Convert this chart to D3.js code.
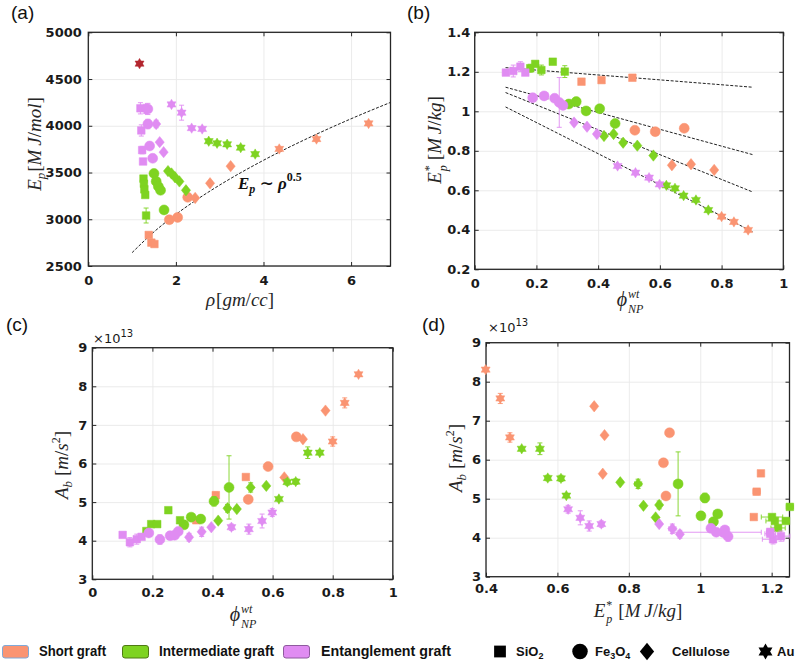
<!DOCTYPE html>
<html><head><meta charset="utf-8">
<script src="https://cdn.jsdelivr.net/npm/d3@7"></script>
<style>body{margin:0;background:#fff} svg{display:block}</style>
</head><body>
<svg id="chart" width="800" height="663"></svg>
<script>
// ---------------- DATA ----------------
const graftNames = ["Short graft", "Intermediate graft", "Entanglement graft"];
const graftColors = ["#FA9472", "#7ED321", "#E08CF2"];
const graftEdges = ["#7FA9D8", "#4F7A14", "#8E5A9E"];
const materialNames = ["SiO2", "Fe3O4", "Cellulose", "Au"];
const materialShapes = ["square", "circle", "diamond", "star"];

// panels (b)-(d): [phi_wt, E*_p (MJ/kg), A_b (x1e13 m/s^2), err E*, err A_b]
const shortSiO2      = [[0.346,1.150,4.53],[0.411,1.158,5.18,0.01,0.08],[0.511,1.170,5.65]];
const shortFe3O4     = [[0.519,0.904,5.07],[0.585,0.897,5.92],[0.679,0.914,6.69]];
const shortCellulose = [[0.639,0.727,5.64],[0.701,0.732,6.63],[0.776,0.703,7.37]];
const shortAu        = [[0.800,0.467,6.57,0,0.12],[0.840,0.440,7.57,0,0.13],[0.886,0.399,8.31,0,0.05]];
const interSiO2      = [[0.180,1.218,4.25,0.02,0.05],[0.196,1.240,4.43,0.01,0.03],[0.216,1.209,4.43,0.025,0.05],[0.253,1.251,4.79,0.01,0.06],[0.292,1.201,4.53,0.03,0.05]];
const interFe3O4     = [[0.305,1.037,4.41],[0.329,1.049,4.61],[0.361,1.002,4.56],[0.405,1.013,5.02,0.005,0.12],[0.455,0.938,5.38,0,0.82]];
const interCellulose = [[0.419,0.875,4.52],[0.450,0.885,4.84,0,0.1],[0.481,0.841,4.82],[0.527,0.826,5.38,0.01,0.12],[0.579,0.776,5.42]];
const interAu        = [[0.621,0.625,5.08],[0.649,0.610,5.52,0,0.08],[0.677,0.573,5.53,0,0.07],[0.717,0.551,6.28,0,0.15],[0.757,0.500,6.28]];
const entSiO2        = [[0.101,1.196,4.15,0.01,0.04],[0.125,1.204,3.96,0.03,0.12],[0.148,1.226,4.04,0.025,0.13],[0.164,1.196,4.10,0.015,0.05]];
const entFe3O4       = [[0.188,1.069,4.20,0,0.05],[0.225,1.078,4.03,0,0.12],[0.259,1.066,4.13,0,0.1],[0.274,1.045,4.14,0.126,0.05],[0.286,1.030,4.24]];
const entCellulose   = [[0.322,0.943,4.09,0,0.1],[0.364,0.922,4.23,0.01,0.12],[0.396,0.885,4.35]];
const entAu          = [[0.463,0.723,4.35,0,0.08],[0.521,0.689,4.30,0,0.13],[0.565,0.664,4.51,0,0.18],[0.599,0.630,4.73,0,0.1]];

// panel (a): [rho (g/cc), E_p (MJ/mol), err E_p]
const rhoShortSiO2      = [[1.38,2832],[1.44,2750],[1.51,2735]];
const rhoShortFe3O4     = [[1.85,2995],[2.04,3020],[2.27,3235]];
const rhoShortCellulose = [[2.44,3228],[2.78,3385],[3.25,3568]];
const rhoShortAu        = [[4.36,3752],[5.21,3858],[6.40,4025]];
const rhoInterSiO2      = [[1.26,3435],[1.27,3380],[1.28,3320],[1.30,3260],[1.32,3040,80]];
const rhoInterFe3O4     = [[1.50,3490],[1.55,3405],[1.60,3350],[1.65,3310],[1.73,3100]];
const rhoInterCellulose = [[1.82,3515],[1.90,3490],[1.98,3450],[2.08,3405],[2.23,3310]];
const rhoInterAu        = [[2.75,3835],[2.94,3813],[3.17,3802],[3.48,3766],[3.81,3697]];
const rhoEntSiO2        = [[1.19,4187,60],[1.21,3950,60],[1.23,3740,40],[1.25,3618,30]];
const rhoEntFe3O4       = [[1.36,4180,60],[1.36,4019,50],[1.40,3784],[1.47,3652]];
const rhoEntCellulose   = [[1.31,4180,50],[1.55,4019,40],[1.63,3825],[1.72,3718]];
const rhoEntAu          = [[1.90,4228],[2.13,4140,80],[2.36,3975],[2.60,3966]];
const rhoReference      = [[1.17,4665]];
const referenceColor = "#B3262F";

// E_p ~ rho^0.5 guide curve
const fitRho = [1.0, 1.5, 2.0, 2.5, 3.0, 4.0, 5.0, 6.0, 6.9];
const fitEp  = [2643, 2865, 3052, 3217, 3366, 3631, 3864, 4075, 4250];

// panel (b) guide lines: E*_p at phi = 0.1 and 0.9
const guidePhi = [0.1, 0.9];
const guideLines = [[1.221, 1.122], [1.122, 0.781], [1.095, 0.592], [1.022, 0.391]];

// tick values
const ticksAx = [0, 2, 4, 6], ticksAy = [2500, 3000, 3500, 4000, 4500, 5000];
const ticksBx = [0, 0.2, 0.4, 0.6, 0.8, 1], ticksBy = [0.2, 0.4, 0.6, 0.8, 1, 1.2, 1.4];
const ticksCx = [0, 0.2, 0.4, 0.6, 0.8, 1], ticksCy = [3, 4, 5, 6, 7, 8, 9];
const ticksDx = [0.4, 0.6, 0.8, 1, 1.2], ticksDy = [3, 4, 5, 6, 7, 8, 9];

const groups = [
  {g:0, m:0, pts:shortSiO2, rho:rhoShortSiO2}, {g:0, m:1, pts:shortFe3O4, rho:rhoShortFe3O4},
  {g:0, m:2, pts:shortCellulose, rho:rhoShortCellulose}, {g:0, m:3, pts:shortAu, rho:rhoShortAu},
  {g:1, m:0, pts:interSiO2, rho:rhoInterSiO2}, {g:1, m:1, pts:interFe3O4, rho:rhoInterFe3O4},
  {g:1, m:2, pts:interCellulose, rho:rhoInterCellulose}, {g:1, m:3, pts:interAu, rho:rhoInterAu},
  {g:2, m:0, pts:entSiO2, rho:rhoEntSiO2}, {g:2, m:1, pts:entFe3O4, rho:rhoEntFe3O4},
  {g:2, m:2, pts:entCellulose, rho:rhoEntCellulose}, {g:2, m:3, pts:entAu, rho:rhoEntAu}
];

// ---------------- DRAWING ----------------
const svg = d3.select("#chart");
const AX = "#262626", GRID = "#e9e9e9";
const TICKF = "'DejaVu Sans', 'Liberation Sans', sans-serif";
const SERIF = "'Liberation Serif', 'DejaVu Serif', serif";

function starPath(R){
  const pt = a => [R*Math.cos(a*Math.PI/180), R*Math.sin(a*Math.PI/180)].map(v=>v.toFixed(2)).join(",");
  const tri = as => "M" + as.map(pt).join("L") + "Z";
  return tri([-90,30,150]) + tri([90,210,330]);
}
function shapePath(shape, k){
  k = k || 1;
  if (shape === "square"){ const s = 3.8*k; return `M${-s},${-s}H${s}V${s}H${-s}Z`; }
  if (shape === "circle"){ const r = 5.0*k; return `M${r},0A${r},${r} 0 1,1 ${-r},0A${r},${r} 0 1,1 ${r},0Z`; }
  if (shape === "diamond"){ const w = 4.6*k, h = 5.7*k; return `M0,${-h}L${w},0L0,${h}L${-w},0Z`; }
  return starPath(5.2*k);
}

function panel(cfg){
  const x = d3.scaleLinear().domain(cfg.xd).range(cfg.xr);
  const y = d3.scaleLinear().domain(cfg.yd).range(cfg.yr);
  const [x0, x1] = cfg.xr, [y0, y1] = cfg.yr;
  const W = x1 - x0, H = y0 - y1;
  const gridStyle = g => { g.select(".domain").remove(); g.selectAll("line").attr("stroke", GRID).attr("stroke-width", 0.9); };
  svg.append("g").attr("transform", `translate(0,${y0})`)
    .call(d3.axisBottom(x).tickValues(cfg.xt).tickSize(-H).tickFormat("")).call(gridStyle);
  svg.append("g").attr("transform", `translate(${x0},0)`)
    .call(d3.axisLeft(y).tickValues(cfg.yt).tickSize(-W).tickFormat("")).call(gridStyle);
  const tickStyle = g => {
    g.select(".domain").remove();
    g.selectAll("line").attr("stroke", AX).attr("stroke-width", 1);
    g.attr("font-family", TICKF).attr("font-size", 13).attr("font-weight", "bold");
    g.selectAll("text").attr("fill", "#1a1a1a");
  };
  svg.append("g").attr("transform", `translate(0,${y0})`)
    .call(d3.axisBottom(x).tickValues(cfg.xt).tickSizeInner(-4).tickSizeOuter(0).tickPadding(cfg.xpad).tickFormat(cfg.xf)).call(tickStyle);
  svg.append("g").attr("transform", `translate(0,${y1})`)
    .call(d3.axisTop(x).tickValues(cfg.xt).tickSizeInner(-4).tickSizeOuter(0).tickFormat("")).call(tickStyle);
  svg.append("g").attr("transform", `translate(${x0},0)`)
    .call(d3.axisLeft(y).tickValues(cfg.yt).tickSizeInner(-4).tickSizeOuter(0).tickPadding(cfg.ypad).tickFormat(cfg.yf)).call(tickStyle);
  svg.append("g").attr("transform", `translate(${x1},0)`)
    .call(d3.axisRight(y).tickValues(cfg.yt).tickSizeInner(-4).tickSizeOuter(0).tickFormat("")).call(tickStyle);
  svg.append("rect").attr("x", x0).attr("y", y1).attr("width", W).attr("height", H)
    .attr("fill", "none").attr("stroke", AX).attr("stroke-width", 1.3);
  return {x, y, layer: svg.append("g")};
}

function drawGroup(P, pts, xi, yi, exi, eyi, color, shape){
  const L = P.layer.append("g");
  pts.forEach(p => {
    const cx = P.x(p[xi]), cy = P.y(p[yi]);
    const ey = eyi != null ? (p[eyi] || 0) : 0;
    const ex = exi != null ? (p[exi] || 0) : 0;
    if (ey){
      const a = P.y(p[yi] - ey), b = P.y(p[yi] + ey);
      L.append("path").attr("d", `M${cx},${a}V${b}M${cx-2.5},${a}H${cx+2.5}M${cx-2.5},${b}H${cx+2.5}`)
        .attr("stroke", color).attr("stroke-width", 0.9).attr("fill", "none");
    }
    if (ex){
      const a = P.x(p[xi] - ex), b = P.x(p[xi] + ex);
      L.append("path").attr("d", `M${a},${cy}H${b}M${a},${cy-2.5}V${cy+2.5}M${b},${cy-2.5}V${cy+2.5}`)
        .attr("stroke", color).attr("stroke-width", 0.9).attr("fill", "none");
    }
  });
  L.selectAll(null).data(pts).enter().append("path")
    .attr("transform", p => `translate(${P.x(p[xi])},${P.y(p[yi])})`)
    .attr("d", shapePath(shape))
    .attr("fill", color).attr("stroke", color).attr("stroke-width", 0.5);
}

// one <text> per label; tspans placed by measured widths (stacked super/subscripts supported)
function mathLabel(x, y, parts, o){
  o = o || {};
  const g = svg.append("g").attr("transform", `translate(${x},${y})` + (o.rot ? " rotate(-90)" : ""));
  const t = g.append("text")
    .attr("font-family", o.f || SERIF)
    .attr("font-weight", o.b ? "bold" : "normal")
    .attr("font-size", o.s || 19)
    .attr("fill", o.c || "#262626");
  let cur = 0, prevStart = 0;
  const spans = parts.map(p => {
    const s = t.append("tspan").attr("font-style", p.i ? "italic" : "normal").attr("y", p.dy || 0).text(p.t);
    if (p.s) s.attr("font-size", p.s);
    const sx = p.stack ? prevStart : cur + (p.dx || 0);
    s.attr("x", sx);
    const w = s.node().getComputedTextLength();
    prevStart = sx;
    cur = p.stack ? Math.max(cur, sx + w) : sx + w;
    return s;
  });
  if (o.anchor !== "start") spans.forEach(s => s.attr("x", +s.attr("x") - cur/2));
  return g;
}

// ---------- panel (a) ----------
const A = panel({xd:[0,6.9], xr:[88.3,390.5], yd:[2500,5000], yr:[266,32.3], xt:ticksAx, yt:ticksAy,
  xf:d3.format("d"), yf:d3.format("d"), xpad:10, ypad:6.5});
A.layer.append("path")
  .datum(fitRho.map((r,i)=>[r, fitEp[i]]))
  .attr("d", d3.line().x(d=>A.x(d[0])).y(d=>A.y(d[1])).curve(d3.curveMonotoneX))
  .attr("fill","none").attr("stroke","#222").attr("stroke-width",1).attr("stroke-dasharray","3,1.6");
groups.forEach(G => drawGroup(A, G.rho, 0, 1, null, 2, graftColors[G.g], materialShapes[G.m]));
drawGroup(A, rhoReference, 0, 1, null, 2, referenceColor, "star");

// ---------- panel (b) ----------
const B = panel({xd:[0,1], xr:[474.7,783.3], yd:[0.2,1.4], yr:[269.3,32.3], xt:ticksBx, yt:ticksBy,
  xf:d=>String(+d.toFixed(1)), yf:d=>String(+d.toFixed(1)), xpad:9, ypad:4.5});
guideLines.forEach(gl => {
  B.layer.append("path")
    .datum(guidePhi.map((p,i)=>[p, gl[i]]))
    .attr("d", d3.line().x(d=>B.x(d[0])).y(d=>B.y(d[1])))
    .attr("fill","none").attr("stroke","#222").attr("stroke-width",1).attr("stroke-dasharray","3,1.6");
});
groups.forEach(G => drawGroup(B, G.pts, 0, 1, null, 3, graftColors[G.g], materialShapes[G.m]));

// ---------- panel (c) ----------
const C = panel({xd:[0,1], xr:[92.3,392.8], yd:[3,9], yr:[579.3,347.7], xt:ticksCx, yt:ticksCy,
  xf:d=>String(+d.toFixed(1)), yf:d3.format("d"), xpad:8, ypad:5});
groups.forEach(G => drawGroup(C, G.pts, 0, 2, null, 4, graftColors[G.g], materialShapes[G.m]));

// ---------- panel (d) ----------
const D = panel({xd:[0.4,1.25], xr:[486,789.5], yd:[3,9], yr:[576.7,342.7], xt:ticksDx, yt:ticksDy,
  xf:d=>String(+d.toFixed(1)), yf:d3.format("d"), xpad:7, ypad:5});
groups.forEach(G => drawGroup(D, G.pts, 1, 2, 3, 4, graftColors[G.g], materialShapes[G.m]));

// ---------- labels ----------
const sub = 4, sup = -8, NB = "\u00A0";
const starSub = [{t:"*",s:12,dy:-8,dx:1},{t:"p",i:1,s:12,dy:6,stack:1}];
const phiParts = [{t:"ϕ",i:1,s:20},{t:"wt",i:1,s:12,dy:-8,dx:1},{t:"NP",i:1,s:12,dy:6.5,stack:1}];
// (a)
mathLabel(41, 144, [{t:"E",i:1},{t:"p",i:1,s:13,dy:sub},{t:"[",dx:1},{t:"M\u2009J",i:1},{t:"/"},{t:"mol",i:1},{t:"]"}], {rot:1});
mathLabel(240, 306, [{t:"ρ",i:1},{t:"[",dx:1},{t:"gm",i:1},{t:"/"},{t:"cc",i:1},{t:"]"}]);
mathLabel(238, 189, [{t:"E",i:1},{t:"p",i:1,s:12,dy:4},{t:NB+"∼"+NB},{t:"ρ",i:1},{t:"0.5",s:12,dy:-8}], {b:1, s:17, anchor:"start", c:"#111"});
// (b)
mathLabel(441, 140, [{t:"E",i:1}].concat(starSub, [{t:"[",dx:5},{t:"M\u2009J",i:1},{t:"/"},{t:"kg",i:1},{t:"]"}]), {rot:1});
mathLabel(630, 306, phiParts);
// (c)
mathLabel(68, 465, [{t:"A",i:1},{t:"b",i:1,s:13,dy:sub},{t:"[",dx:5},{t:"m",i:1},{t:"/"},{t:"s",i:1},{t:"2",s:12,dy:sup},{t:"]"}], {rot:1});
mathLabel(243, 621, phiParts);
mathLabel(93, 343, [{t:"×10"},{t:"13",s:10,dy:-6}], {f:TICKF, s:13, anchor:"start", c:"#1a1a1a"});
// (d)
mathLabel(462, 458, [{t:"A",i:1},{t:"b",i:1,s:13,dy:sub},{t:"[",dx:5},{t:"m",i:1},{t:"/"},{t:"s",i:1},{t:"2",s:12,dy:sup},{t:"]"}], {rot:1});
mathLabel(638, 617, [{t:"E",i:1}].concat(starSub, [{t:"[",dx:6},{t:"M\u2009J",i:1},{t:"/"},{t:"kg",i:1},{t:"]"}]));
mathLabel(488, 332, [{t:"×10"},{t:"13",s:10,dy:-6}], {f:TICKF, s:13, anchor:"start", c:"#1a1a1a"});

// panel letters
[["(a)",11,19],["(b)",407,19],["(c)",6,331],["(d)",422,331]].forEach(([t,x,y]) =>
  svg.append("text").attr("x",x).attr("y",y).text(t)
    .attr("font-family","'Liberation Sans', Arial, sans-serif").attr("font-size",19).attr("fill","#111"));

// ---------- legend ----------
const LF = "'Liberation Sans', Arial, sans-serif";
const legY = 656;
const graftLeg = [[2,39,67],[122,159,115],[283,321,130]];
graftNames.forEach((n,i) => {
  const [sx, tx, tl] = graftLeg[i];
  svg.append("rect").attr("x",sx+0.5).attr("y",645.5).attr("width",26).attr("height",12.5).attr("rx",2.5)
    .attr("fill",graftColors[i]).attr("stroke",graftEdges[i]).attr("stroke-width",1);
  svg.append("text").attr("x",tx).attr("y",legY).text(n)
    .attr("font-family",LF).attr("font-weight","bold").attr("font-size",14).attr("fill","#111")
    .attr("textLength",tl).attr("lengthAdjust","spacingAndGlyphs");
});
const matLeg = [[500,516],[580,595],[647,672],[765.5,777]];
materialNames.forEach((n,i) => {
  const [mx, tx] = matLeg[i];
  svg.append("path").attr("transform",`translate(${mx},651.5)`).attr("d",shapePath(materialShapes[i],1.55)).attr("fill","#000");
  const t = svg.append("text").attr("x",tx).attr("y",legY)
    .attr("font-family",LF).attr("font-weight","bold").attr("font-size",13).attr("fill","#111");
  let shifted = false;
  (n.match(/[A-Za-z]+|\d+/g)).forEach(p => {
    if (/\d/.test(p)) { t.append("tspan").attr("font-size",9).attr("dy",3).text(p); shifted = true; }
    else { t.append("tspan").attr("dy", shifted ? -3 : 0).text(p); shifted = false; }
  });
});
</script>
</body></html>
